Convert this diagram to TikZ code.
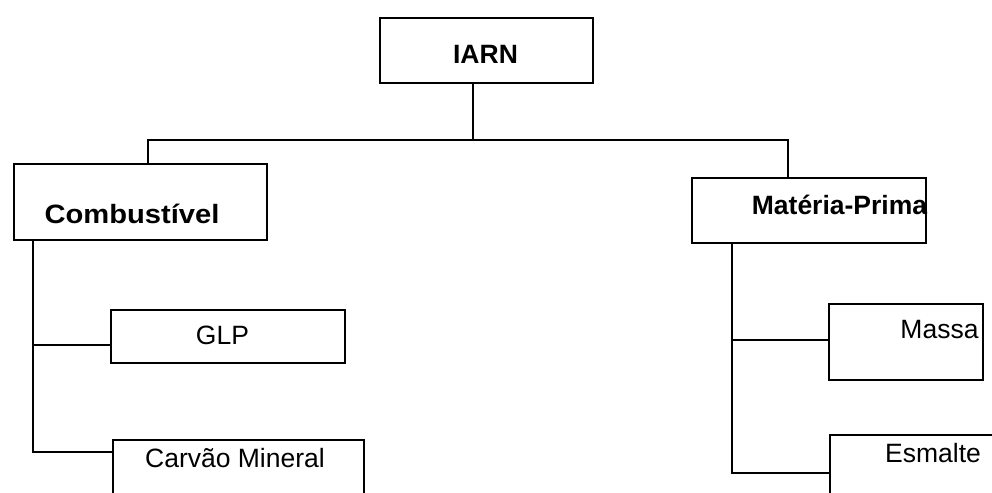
\documentclass[tikz,border=0pt]{standalone}
\usepackage{fontspec}
\setmainfont{Liberation Sans}
\begin{document}
\begin{tikzpicture}[x=1pt,y=-1pt,line width=1.9pt,
  box/.style={draw,line width=1.9pt,rectangle,anchor=north west,inner sep=0pt},
  link/.style={draw,line width=1.9pt,line cap=rect},
  boldtxt/.style={anchor=base,inner sep=0pt,font=\fontsize{26.5}{30}\selectfont\bfseries},
  plaintxt/.style={anchor=base,inner sep=0pt,font=\fontsize{26.5}{30}\selectfont}]
  \clip (0,0) rectangle (992,492);
  \fill[white] (0,0) rectangle (992,492);

  % boxes
  \node[box,minimum width=213pt,minimum height=65pt] (iarn) at (379,17) {};
  \node[box,minimum width=253pt,minimum height=76pt] (comb) at (13,163) {};
  \node[box,minimum width=234pt,minimum height=65pt] (mat)  at (691,177) {};
  \node[box,minimum width=234pt,minimum height=53pt] (glp)  at (110,309) {};
  \node[box,minimum width=251pt,minimum height=80pt] (carv) at (112,439) {};
  \node[box,minimum width=154pt,minimum height=76pt] (massa) at (828,303) {};
  \node[box,minimum width=200pt,minimum height=80pt] (esm)  at (829,434) {};

  % labels
  \node[boldtxt]  (tiarn)  at (485.5,64) {IARN};
  \node[boldtxt]  (tcomb)  at (132,223) {\scalebox{1.1}[1]{Combustível}};
  \node[boldtxt]  (tmat)   at (839.5,214) {Matéria-Prima};
  \node[plaintxt] (tglp)   at (222.5,344) {GLP};
  \node[plaintxt] (tcarv)  at (235,467) {Carvão Mineral};
  \node[plaintxt] (tmassa) at (939.5,338) {Massa};
  \node[plaintxt] (tesm)   at (933,462) {Esmalte};

  % top-level bus
  \coordinate (busC) at (473,140);
  \coordinate (busL) at (148,140);
  \coordinate (busR) at (788,140);
  \path[link] (iarn.south -| busC) -- (busC);
  \path[link] (busL) -- (busR);
  \path[link] (busL) -- (busL |- comb.north);
  \path[link] (busR) -- (busR |- mat.north);

  % left branch
  \coordinate (trunkL) at (33,0);
  \path[link] (comb.south -| trunkL) |- ([yshift=-8.5pt]glp.west);
  \path[link] (comb.south -| trunkL) |- ([yshift=-13pt]carv.north west);

  % right branch
  \coordinate (trunkR) at (732,0);
  \path[link] (mat.south -| trunkR) |- ([yshift=2pt]massa.west);
  \path[link] (mat.south -| trunkR) |- ([yshift=-39pt]esm.north west);
\end{tikzpicture}
\end{document}
